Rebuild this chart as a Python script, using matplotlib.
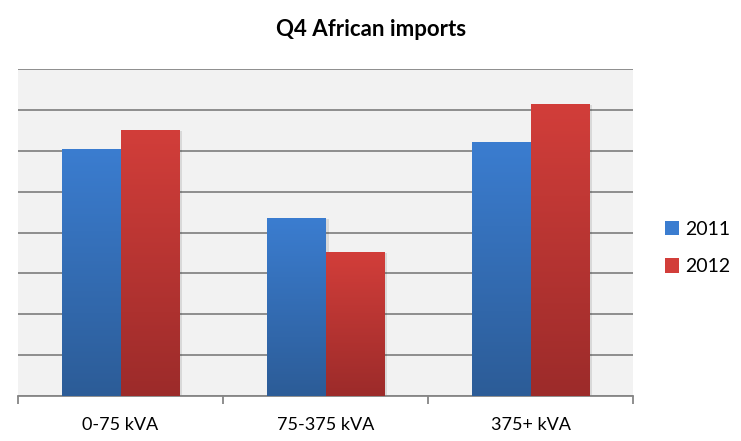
import numpy as np
import matplotlib.pyplot as plt
from matplotlib.patches import Rectangle
from matplotlib.colors import LinearSegmentedColormap

categories = ['0-75 kVA', '75-375 kVA', '375+ kVA']
series_names = ['2011', '2012']
values_2011 = [6.05, 4.35, 6.22]
values_2012 = [6.51, 3.52, 7.15]

# colours: top / bottom of the gradient
grad = {
    '2011': ('#3B7DD0', '#2C5C97'),
    '2012': ('#D23E3A', '#9C2B2A'),
}

plt.rcParams['font.family'] = ['Lato', 'DejaVu Sans']

fig = plt.figure(figsize=(7.41, 4.41), dpi=100)
ax = fig.add_axes([18 / 741, (441 - 396) / 441, (633 - 18) / 741, (396 - 69) / 441])
ax.set_facecolor('#F2F2F2')

x = np.arange(len(categories))
w = 0.285

for i, (name, vals) in enumerate(zip(series_names, [values_2011, values_2012])):
    top, bottom = grad[name]
    cmap = LinearSegmentedColormap.from_list(name, [bottom, top])
    offs = (i - 0.5) * w
    bars = ax.bar(x + offs, vals, w, color=top, zorder=3, label=name)
    for b in bars:
        bx, by = b.get_x(), b.get_y()
        bw, bh = b.get_width(), b.get_height()
        # soft shadow on the right
        ax.add_patch(Rectangle((bx + 0.015, by), bw, bh - 0.03, color='#000000',
                               alpha=0.10, zorder=2.5, lw=0))
        g = np.linspace(0, 1, 256).reshape(-1, 1)
        im = ax.imshow(g, extent=[bx, bx + bw, by, by + bh], origin='lower',
                       cmap=cmap, aspect='auto', zorder=3.1)
        im.set_clip_path(b)

ax.set_xlim(-0.5, len(categories) - 0.5)
ax.set_ylim(0, 8)

ax.yaxis.grid(True, color='#868686', lw=1.3, zorder=1)
ax.set_yticks(np.arange(0, 9, 1))
ax.tick_params(axis='y', length=0, labelleft=False)
for s in ['left', 'right', 'top']:
    ax.spines[s].set_visible(False)
ax.spines['bottom'].set_color('#868686')
ax.spines['bottom'].set_linewidth(1.3)

ax.set_xticks(np.arange(-0.5, len(categories), 1))
ax.set_xticklabels([])
ax.tick_params(axis='x', which='major', length=6, color='#868686', width=1.3)
ax.set_xticks(x, minor=True)
ax.set_xticklabels(categories, minor=True, fontsize=13, color='#000000')
ax.tick_params(axis='x', which='minor', length=0, pad=15)

fig.text(371 / 741, 1 - 30 / 441, 'Q4 African imports', ha='center', va='center',
         fontsize=16, fontweight='bold')

handles, labels = ax.get_legend_handles_labels()
fig.legend(handles, labels, loc='center left', bbox_to_anchor=(647 / 741, 1 - 248 / 441),
           frameon=False, fontsize=14, handlelength=0.75, handleheight=0.75,
           handletextpad=0.3, labelspacing=1.05)

fig.savefig('out.png', dpi=100)
